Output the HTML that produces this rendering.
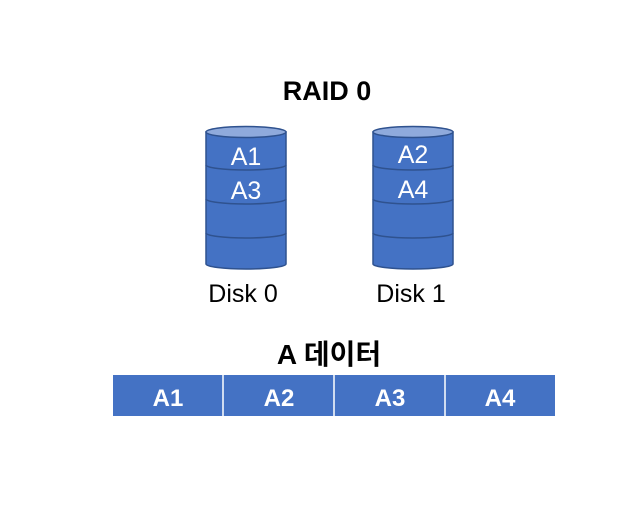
<!DOCTYPE html>
<html><head><meta charset="utf-8"><style>
body{margin:0;background:#fff;width:642px;height:505px;overflow:hidden;position:relative;font-family:"Liberation Sans","Noto Sans CJK KR",sans-serif}
</style></head><body>
<svg width="642" height="505" style="position:absolute;left:0;top:0">
<g stroke="#2f528f" stroke-width="1.5" fill="#4472c4">
 <g>
  <path d="M206 132 V264 A40 5 0 0 0 286 264 V132 Z"/>
  <ellipse cx="246" cy="132" rx="40" ry="5.5" fill="#8faadc"/>
  <path d="M206 165 A40 5 0 0 0 286 165" fill="none"/>
  <path d="M206 199 A40 5 0 0 0 286 199" fill="none"/>
  <path d="M206 233 A40 5 0 0 0 286 233" fill="none"/>
 </g>
 <g transform="translate(167,0)">
  <path d="M206 132 V264 A40 5 0 0 0 286 264 V132 Z"/>
  <ellipse cx="246" cy="132" rx="40" ry="5.5" fill="#8faadc"/>
  <path d="M206 165 A40 5 0 0 0 286 165" fill="none"/>
  <path d="M206 199 A40 5 0 0 0 286 199" fill="none"/>
  <path d="M206 233 A40 5 0 0 0 286 233" fill="none"/>
 </g>
</g>
<rect x="113" y="375" width="442" height="41" fill="#4472c4"/>
<g stroke="#fff" stroke-width="1.5">
<line x1="223" y1="375" x2="223" y2="416"/><line x1="334" y1="375" x2="334" y2="416"/><line x1="445" y1="375" x2="445" y2="416"/>
</g>
<g font-family="Liberation Sans, Noto Sans CJK KR, sans-serif" text-anchor="middle">
<text x="327" y="100" font-size="27" font-weight="bold">RAID 0</text>
<g fill="#fff" font-size="25"><text x="246" y="165">A1</text><text x="246" y="199">A3</text><text x="413" y="163">A2</text><text x="413" y="198">A4</text></g>
<text x="243" y="302" font-size="25">Disk 0</text><text x="411" y="302" font-size="25">Disk 1</text>
<text x="329" y="364" font-size="28" font-weight="bold">A 데이터</text>
<g fill="#fff" font-size="24" font-weight="bold"><text x="168" y="406">A1</text><text x="279" y="406">A2</text><text x="390" y="406">A3</text><text x="500" y="406">A4</text></g>
</g>
</svg>
</body></html>
